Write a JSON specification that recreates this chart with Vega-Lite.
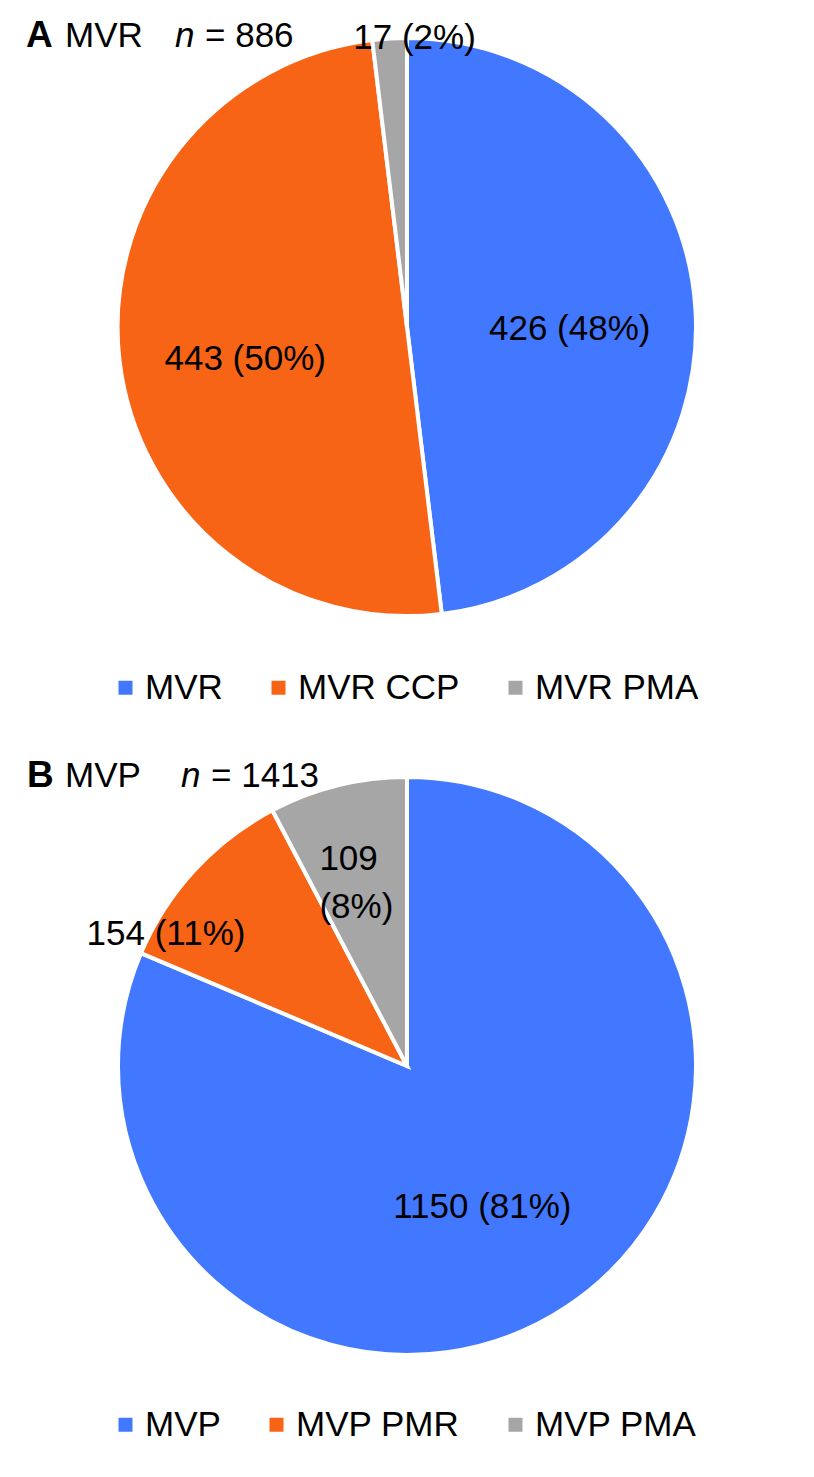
{
  "$schema": "https://vega.github.io/schema/vega-lite/v6.json",
  "padding": 0,
  "background": "white",
  "spacing": 33,
  "config": {"view": {"stroke": null}, "font": "Liberation Sans", "title": {"anchor": "start", "font": "Liberation Sans", "color": "black", "fontWeight": "normal", "fontSize": 35}},
  "datasets": {
    "mvr": [
      {"cat": "MVR", "n": 426, "k": 1, "label": "426 (48%)"},
      {"cat": "MVR CCP", "n": 443, "k": 2, "label": "443 (50%)"},
      {"cat": "MVR PMA", "n": 17, "k": 3, "label": "17 (2%)"}
    ],
    "mvp": [
      {"cat": "MVP", "n": 1150, "k": 1, "label": "1150 (81%)"},
      {"cat": "MVP PMR", "n": 154, "k": 2, "label": "154 (11%)"},
      {"cat": "MVP PMA", "n": 109, "k": 3, "label": "109\n(8%)"}
    ]
  },
  "resolve": {"scale": {"color": "independent", "theta": "independent"}, "legend": {"color": "independent"}},
  "vconcat": [
    {
      "title": {"text": "A", "dx": 26, "offset": -55, "fontSize": 37, "fontWeight": "bold"},
      "vconcat": [{
        "title": {"text": "MVR", "dx": 65, "offset": -54},
        "vconcat": [{
          "title": {"text": "n", "dx": 175, "offset": -54, "fontStyle": "italic"},
          "vconcat": [{
            "title": {"text": "= 886", "dx": 205, "offset": -54},
            "width": 814,
            "height": 654,
            "data": {"name": "mvr"},
            "encoding": {
              "theta": {"field": "n", "type": "quantitative", "stack": true},
              "order": {"field": "k", "type": "quantitative"}
            },
            "layer": [
              {
                "mark": {"type": "arc", "outerRadius": 289, "stroke": "white", "strokeWidth": 4},
                "encoding": {
                  "color": {
                    "field": "cat", "type": "nominal",
                    "scale": {"domain": ["MVR", "MVR CCP", "MVR PMA"], "range": ["#4178FF", "#F76416", "#A6A6A6"]},
                    "legend": {
                      "orient": "none", "legendX": 108, "legendY": 670, "direction": "horizontal", "title": null,
                      "symbolType": "square", "symbolSize": 196, "symbolStrokeWidth": 0, "symbolOpacity": 1,
                      "labelFont": "Liberation Sans", "labelFontSize": 35, "labelColor": "black",
                      "labelOffset": 2, "columnPadding": 38, "labelLimit": 400
                    }
                  }
                }
              },
              {
                "mark": {"type": "text", "radius": 163, "dy": 12, "font": "Liberation Sans", "fontSize": 35, "color": "black"},
                "encoding": {
                  "detail": {"field": "cat", "type": "nominal"},
                  "text": {"condition": {"test": "datum.k !== 3", "field": "label", "type": "nominal"}, "value": ""}
                }
              },
              {
                "mark": {"type": "text", "radius": 290, "dx": 25, "font": "Liberation Sans", "fontSize": 35, "color": "black"},
                "encoding": {
                  "detail": {"field": "cat", "type": "nominal"},
                  "text": {"condition": {"test": "datum.k === 3", "field": "label", "type": "nominal"}, "value": ""}
                }
              }
            ]
          }]
        }]
      }]
    },
    {
      "title": {"text": "B", "dx": 27, "offset": -56, "fontSize": 37, "fontWeight": "bold"},
      "vconcat": [{
        "title": {"text": "MVP", "dx": 65, "offset": -55},
        "vconcat": [{
          "title": {"text": "n", "dx": 181, "offset": -55, "fontStyle": "italic"},
          "vconcat": [{
            "title": {"text": "= 1413", "dx": 211, "offset": -55},
            "width": 814,
            "height": 654,
            "data": {"name": "mvp"},
            "encoding": {
              "theta": {"field": "n", "type": "quantitative", "stack": true},
              "order": {"field": "k", "type": "quantitative"}
            },
            "layer": [
              {
                "mark": {"type": "arc", "outerRadius": 289, "stroke": "white", "strokeWidth": 4},
                "encoding": {
                  "color": {
                    "field": "cat", "type": "nominal",
                    "scale": {"domain": ["MVP", "MVP PMR", "MVP PMA"], "range": ["#4178FF", "#F76416", "#A6A6A6"]},
                    "legend": {
                      "orient": "none", "legendX": 108, "legendY": 668, "direction": "horizontal", "title": null,
                      "symbolType": "square", "symbolSize": 196, "symbolStrokeWidth": 0, "symbolOpacity": 1,
                      "labelFont": "Liberation Sans", "labelFontSize": 35, "labelColor": "black",
                      "labelOffset": 2, "columnPadding": 38, "labelLimit": 400
                    }
                  }
                }
              },
              {
                "mark": {"type": "text", "radius": 160, "dx": -13, "dy": 8, "font": "Liberation Sans", "fontSize": 35, "color": "black"},
                "encoding": {
                  "detail": {"field": "cat", "type": "nominal"},
                  "text": {"condition": {"test": "datum.k === 1", "field": "label", "type": "nominal"}, "value": ""}
                }
              },
              {
                "mark": {"type": "text", "radius": 250, "dx": -57, "dy": 37, "font": "Liberation Sans", "fontSize": 35, "color": "black"},
                "encoding": {
                  "detail": {"field": "cat", "type": "nominal"},
                  "text": {"condition": {"test": "datum.k === 2", "field": "label", "type": "nominal"}, "value": ""}
                }
              },
              {
                "mark": {"type": "text", "radius": 190, "dx": -42, "dy": -23, "align": "left", "lineBreak": "\n", "lineHeight": 48, "font": "Liberation Sans", "fontSize": 35, "color": "black"},
                "encoding": {
                  "detail": {"field": "cat", "type": "nominal"},
                  "text": {"condition": {"test": "datum.k === 3", "field": "label", "type": "nominal"}, "value": ""}
                }
              }
            ]
          }]
        }]
      }]
    }
  ]
}
